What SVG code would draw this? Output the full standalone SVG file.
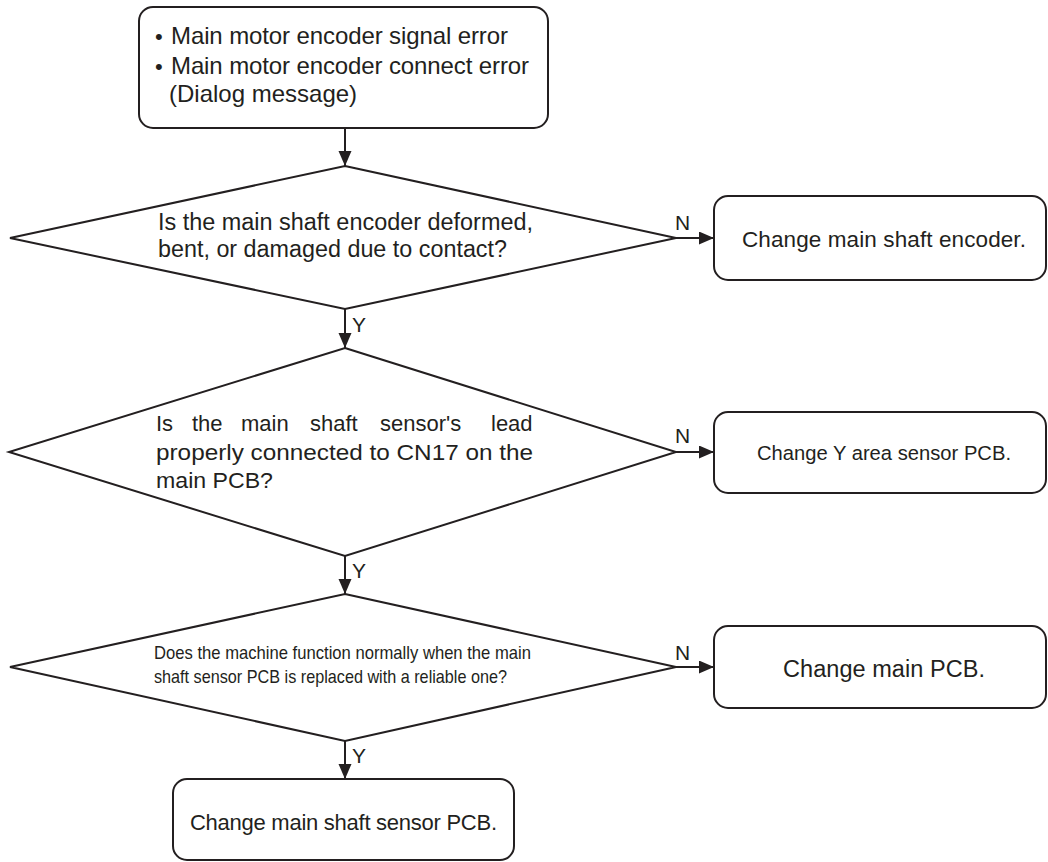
<svg xmlns="http://www.w3.org/2000/svg" width="1048" height="862" viewBox="0 0 1048 862">
<style>
.box{fill:#fff;stroke:#231f20;stroke-width:2}
.dia{fill:#fff;stroke:#231f20;stroke-width:2;stroke-linejoin:miter}
.con{fill:none;stroke:#231f20;stroke-width:2;marker-end:url(#arr)}
text{font-family:"Liberation Sans",Arial,Helvetica,sans-serif;fill:#231f20}
.lbl{font-size:21px}
</style>
<defs>
<marker id="arr" markerUnits="userSpaceOnUse" markerWidth="16" markerHeight="14" refX="15" refY="6.5" orient="auto">
<path d="M0,0 L15,6.5 L0,13 z" fill="#231f20"/>
</marker>
</defs>
<rect width="1048" height="862" fill="#fff"/>
<g id="connectors">
<line class="con" x1="345" y1="128" x2="345" y2="166"/>
<line class="con" x1="345" y1="309" x2="345" y2="348"/>
<line class="con" x1="345" y1="556" x2="345" y2="594"/>
<line class="con" x1="345" y1="741" x2="345" y2="779"/>
<line class="con" x1="676" y1="238" x2="714" y2="238"/>
<line class="con" x1="676" y1="452" x2="714" y2="452"/>
<line class="con" x1="676" y1="667" x2="714" y2="667"/>
<text class="lbl" x="675" y="230">N</text>
<text class="lbl" x="675" y="443">N</text>
<text class="lbl" x="675" y="660">N</text>
<text class="lbl" x="352" y="332">Y</text>
<text class="lbl" x="352" y="578">Y</text>
<text class="lbl" x="352" y="763">Y</text>
</g>
<g id="start">
<rect class="box" x="139" y="7" width="409" height="121" rx="14"/>
<text font-size="22" x="155" y="44">•</text>
<text font-size="24" x="171" y="44" textLength="337">Main motor encoder signal error</text>
<text font-size="22" x="155" y="73.5">•</text>
<text font-size="24" x="171" y="73.5" textLength="358">Main motor encoder connect error</text>
<text font-size="24" x="169" y="102">(Dialog message)</text>
</g>
<g id="q1">
<polygon class="dia" points="345,166 676,238 345,309 10,238"/>
<text font-size="23" x="158" y="229.5" textLength="375" lengthAdjust="spacingAndGlyphs">Is the main shaft encoder deformed,</text>
<text font-size="23" x="158" y="257" textLength="349" lengthAdjust="spacingAndGlyphs">bent, or damaged due to contact?</text>
</g>
<g id="r1">
<rect class="box" x="714" y="196" width="332" height="84" rx="14"/>
<text font-size="22.5" x="742" y="247" textLength="284">Change main shaft encoder.</text>
</g>
<g id="q2">
<polygon class="dia" points="345,348 676,452 345,556 9,452"/>
<text font-size="22" y="431"><tspan x="156">Is</tspan><tspan x="192">the</tspan><tspan x="241">main</tspan><tspan x="310">shaft</tspan><tspan x="380">sensor's</tspan><tspan x="491">lead</tspan></text>
<text font-size="22" x="156" y="460" textLength="377" lengthAdjust="spacingAndGlyphs">properly connected to CN17 on the</text>
<text font-size="22" x="156" y="488" textLength="117" lengthAdjust="spacingAndGlyphs">main PCB?</text>
</g>
<g id="r2">
<rect class="box" x="714" y="412" width="332" height="81" rx="14"/>
<text font-size="20.5" x="757" y="460" textLength="254" lengthAdjust="spacingAndGlyphs">Change Y area sensor PCB.</text>
</g>
<g id="q3">
<polygon class="dia" points="345,594 676,667 345,741 10,667"/>
<text font-size="18.5" x="154" y="658.5" textLength="377" lengthAdjust="spacingAndGlyphs">Does the machine function normally when the main</text>
<text font-size="18.5" x="154" y="683" textLength="353" lengthAdjust="spacingAndGlyphs">shaft sensor PCB is replaced with a reliable one?</text>
</g>
<g id="r3">
<rect class="box" x="714" y="626" width="332" height="82" rx="14"/>
<text font-size="23.5" x="783" y="677" textLength="202">Change main PCB.</text>
</g>
<g id="end">
<rect class="box" x="173" y="779" width="341" height="81" rx="14"/>
<text font-size="22" x="190" y="829.5" textLength="307">Change main shaft sensor PCB.</text>
</g>
</svg>
